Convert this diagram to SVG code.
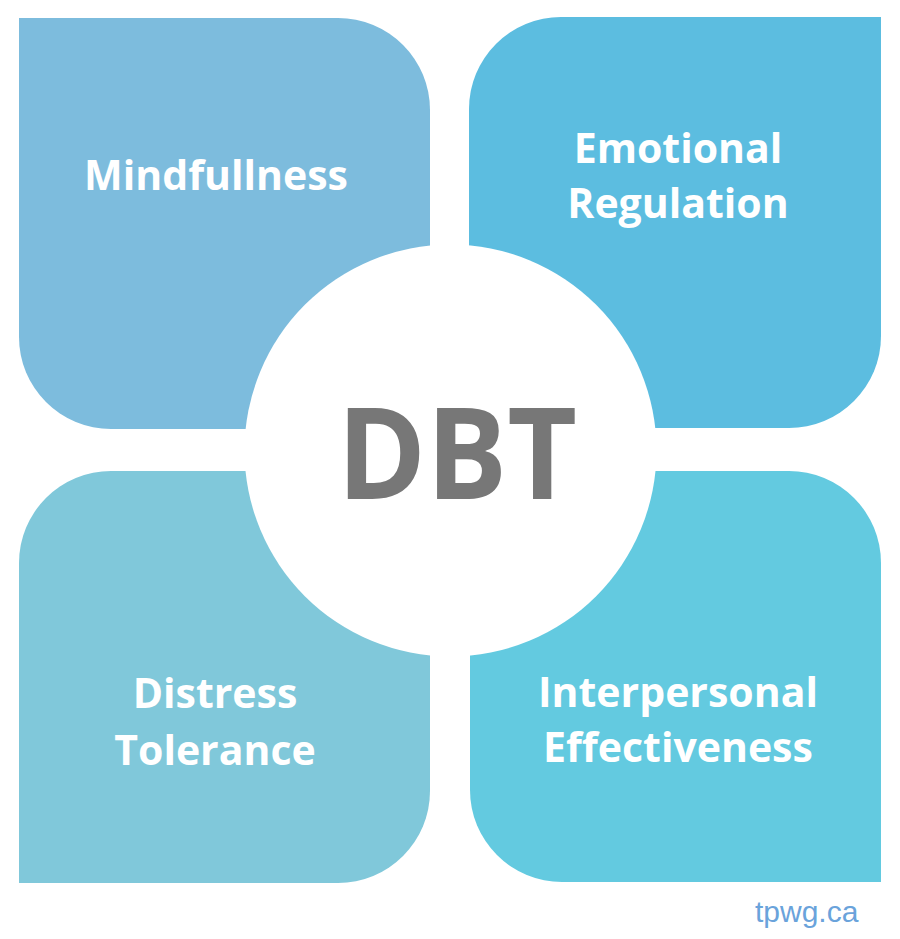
<svg xmlns="http://www.w3.org/2000/svg" width="900" height="939" viewBox="0 0 900 939">
<style>
.lbl{font-family:"Open Sans","Noto Sans",sans-serif;font-weight:700;font-size:41px;fill:#ffffff;text-anchor:middle}
.dbt{font-family:"Open Sans","Noto Sans",sans-serif;font-weight:700;font-size:127px;fill:#777777;text-anchor:middle}
.url{font-family:"Liberation Sans",Arial,sans-serif;font-size:30px;fill:#6aa3db}
</style>
<rect width="900" height="939" fill="#ffffff"/>
<g id="mindfulness">
<path d="M19,18 H338 A92,92 0 0 1 430,110 V429 H111 A92,92 0 0 1 19,337 Z" fill="#7dbcdd"/>
<text class="lbl" x="216" y="190">Mindfullness</text>
</g>
<g id="emotional-regulation">
<path d="M561,17 H881 V336 A92,92 0 0 1 789,428 H469 V109 A92,92 0 0 1 561,17 Z" fill="#5cbde0"/>
<text class="lbl" x="678" y="163">Emotional</text>
<text class="lbl" x="678" y="218">Regulation</text>
</g>
<g id="distress-tolerance">
<path d="M111,471 H430 V791 A92,92 0 0 1 338,883 H19 V563 A92,92 0 0 1 111,471 Z" fill="#80c8da"/>
<text class="lbl" x="215" y="708">Distress</text>
<text class="lbl" x="215" y="765">Tolerance</text>
</g>
<g id="interpersonal-effectiveness">
<path d="M470,471 H789 A92,92 0 0 1 881,563 V882 H562 A92,92 0 0 1 470,790 Z" fill="#63cae0"/>
<text class="lbl" x="678" y="707">Interpersonal</text>
<text class="lbl" x="678" y="762">Effectiveness</text>
</g>
<g id="dbt">
<circle cx="450.5" cy="450.5" r="206" fill="#ffffff"/>
<text class="dbt" x="457" y="499" textLength="240" lengthAdjust="spacingAndGlyphs">DBT</text>
</g>
<g id="connectors"/>
<text class="url" x="755" y="922">tpwg.ca</text>
</svg>
